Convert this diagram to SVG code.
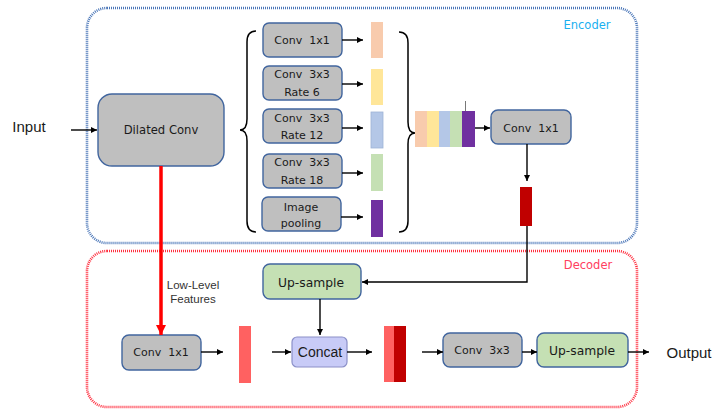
<svg xmlns="http://www.w3.org/2000/svg" width="712" height="412" viewBox="0 0 712 412">
<defs>
<marker id="ah" viewBox="0 0 10 10" refX="10" refY="5" markerWidth="7" markerHeight="6" markerUnits="userSpaceOnUse" orient="auto"><path d="M0,0 L10,5 L0,10 z" fill="#000"/></marker>
<marker id="ahr" viewBox="0 0 10 10" refX="10" refY="5" markerWidth="12" markerHeight="10" markerUnits="userSpaceOnUse" orient="auto"><path d="M0,0 L10,5 L0,10 z" fill="#ff0000"/></marker>
</defs>
<style>
text{font-family:"Liberation Sans",Arial,sans-serif;fill:#1a1a1a;text-anchor:middle}
.d{font-family:"DejaVu Sans",Verdana,sans-serif}
.g{fill:#bfbfbf;stroke:#41659e;stroke-width:1.4}
.gr{fill:#c5e0b4;stroke:#41659e;stroke-width:1.4}
.bt{font-family:"DejaVu Sans",Verdana,sans-serif;font-size:11px}
.a{stroke:#000;stroke-width:1.4;fill:none;marker-end:url(#ah)}
.br{stroke:#000;stroke-width:1.5;fill:none}
</style>
<rect width="712" height="412" fill="#fff"/>
<g id="encoder">
<rect x="87" y="8" width="550" height="235" rx="20" fill="none" stroke="#4a76b8" stroke-width="2.6" stroke-dasharray="1 1"/>
<text class="d" x="587" y="29" font-size="11.5" style="fill:#1ab0f0">Encoder</text>
</g>
<g id="decoder">
<rect x="87" y="251" width="550" height="156" rx="20" fill="none" stroke="#ff3040" stroke-width="2.6" stroke-dasharray="1 1"/>
<text class="d" x="588" y="269" font-size="11.5" style="fill:#ff4060">Decoder</text>
</g>
<g id="input"><text x="29" y="132" font-size="15">Input</text></g>
<g id="output"><text x="689" y="358" font-size="15">Output</text></g>
<g id="dilated"><rect class="g" x="98" y="94" width="126" height="72" rx="14"/><text class="d" x="161" y="134" font-size="11.6">Dilated Conv</text></g>
<g id="b1"><rect class="g" x="263" y="23" width="79" height="34" rx="6"/><text class="bt" x="302" y="44" xml:space="preserve">Conv  1x1</text></g>
<g id="b2"><rect class="g" x="263" y="66" width="79" height="34" rx="6"/><text class="bt" x="302" y="78" xml:space="preserve">Conv  3x3</text><text class="bt" x="302" y="96">Rate 6</text></g>
<g id="b3"><rect class="g" x="263" y="109" width="79" height="34" rx="6"/><text class="bt" x="302" y="122" xml:space="preserve">Conv  3x3</text><text class="bt" x="302" y="139">Rate 12</text></g>
<g id="b4"><rect class="g" x="263" y="154" width="79" height="34" rx="6"/><text class="bt" x="302" y="166" xml:space="preserve">Conv  3x3</text><text class="bt" x="302" y="184">Rate 18</text></g>
<g id="b5"><rect class="g" x="262" y="197" width="79" height="34" rx="6"/><text class="bt" x="301" y="211">Image</text><text class="bt" x="301" y="227">pooling</text></g>
<g id="bars">
<rect x="371" y="22" width="12" height="36" fill="#f8cbad"/>
<rect x="371" y="69" width="12" height="36" fill="#ffe699"/>
<rect x="371" y="112" width="12" height="36" fill="#b4c7e7" stroke="#9fb3d6" stroke-width="0.8"/>
<rect x="371" y="154" width="12" height="37" fill="#c5e0b4"/>
<rect x="371" y="200" width="12" height="37" fill="#7030a0"/>
</g>
<g id="stack">
<rect x="415" y="111" width="12" height="36" fill="#f8cbad"/>
<rect x="427" y="111" width="12" height="36" fill="#ffe699"/>
<rect x="439" y="111" width="11" height="36" fill="#b4c7e7"/>
<rect x="450" y="111" width="12" height="36" fill="#c5e0b4"/>
<rect x="462" y="111" width="13" height="36" fill="#7030a0"/>
<line x1="465.5" y1="101" x2="465.5" y2="111" stroke="#555" stroke-width="0.8"/>
</g>
<g id="braces">
<path class="br" d="M256,31 Q247,31 247,42 L247,119 Q247,130 240,130 Q247,130 247,141 L247,221 Q247,232 256,232"/>
<path class="br" d="M399,32 Q408,32 408,43 L408,122 Q408,133 415,133 Q408,133 408,144 L408,221 Q408,232 399,232"/>
</g>
<g id="encconv"><rect class="g" x="491" y="110" width="80" height="34" rx="7"/><text class="bt" x="531" y="131.5" xml:space="preserve">Conv  1x1</text></g>
<g id="encout"><rect x="520" y="187" width="12" height="39" fill="#c00000"/></g>
<g id="upsample1"><rect class="gr" x="263" y="264" width="98" height="35" rx="7"/><text class="d" x="311" y="286.5" font-size="12.3">Up-sample</text></g>
<g id="llconv"><rect class="g" x="122" y="335" width="79" height="35" rx="7"/><text class="bt" x="161" y="356" xml:space="preserve">Conv  1x1</text></g>
<g id="llbar"><rect x="239" y="326" width="12" height="57" fill="#ff6161"/></g>
<g id="concat"><rect x="292" y="337" width="55" height="30" rx="5" fill="#c8cbf7" stroke="#8b90c8" stroke-width="1.2"/><text x="320" y="357" font-size="14">Concat</text></g>
<g id="catbar"><rect x="384" y="326" width="10" height="56" fill="#ff6161"/><rect x="394" y="326" width="12" height="56" fill="#c00000"/></g>
<g id="conv33"><rect class="g" x="443" y="333" width="79" height="34" rx="7"/><text class="bt" x="482" y="354" xml:space="preserve">Conv  3x3</text></g>
<g id="upsample2"><rect class="gr" x="537" y="333" width="91" height="34" rx="7"/><text class="d" x="582" y="354.5" font-size="12.3">Up-sample</text></g>
<g id="lowlevel"><text x="193" y="289" font-size="11.5" style="fill:#333">Low-Level</text><text x="193" y="303" font-size="11.5" style="fill:#333">Features</text></g>
<g id="connectors">
<line class="a" x1="71" y1="130" x2="97" y2="130"/>
<line class="a" x1="342" y1="40" x2="363" y2="40"/>
<line class="a" x1="342" y1="84" x2="363" y2="84"/>
<line class="a" x1="342" y1="128" x2="363" y2="128"/>
<line class="a" x1="342" y1="173" x2="363" y2="173"/>
<line class="a" x1="341" y1="217" x2="363" y2="217"/>
<line class="a" x1="475" y1="128" x2="490" y2="128"/>
<line class="a" x1="527" y1="144" x2="527" y2="181"/>
<polyline class="a" points="527,226 527,282 362,282"/>
<line class="a" x1="320" y1="299" x2="320" y2="335"/>
<line x1="161" y1="166" x2="161" y2="335" stroke="#ff0000" stroke-width="3.5" marker-end="url(#ahr)"/>
<line class="a" x1="201" y1="352" x2="223" y2="352"/>
<line class="a" x1="272" y1="352" x2="291" y2="352"/>
<line class="a" x1="347" y1="352" x2="372" y2="352"/>
<line class="a" x1="422" y1="352" x2="443" y2="352"/>
<line class="a" x1="522" y1="352" x2="537" y2="352"/>
<line class="a" x1="628" y1="352" x2="649" y2="352"/>
</g>
</svg>
